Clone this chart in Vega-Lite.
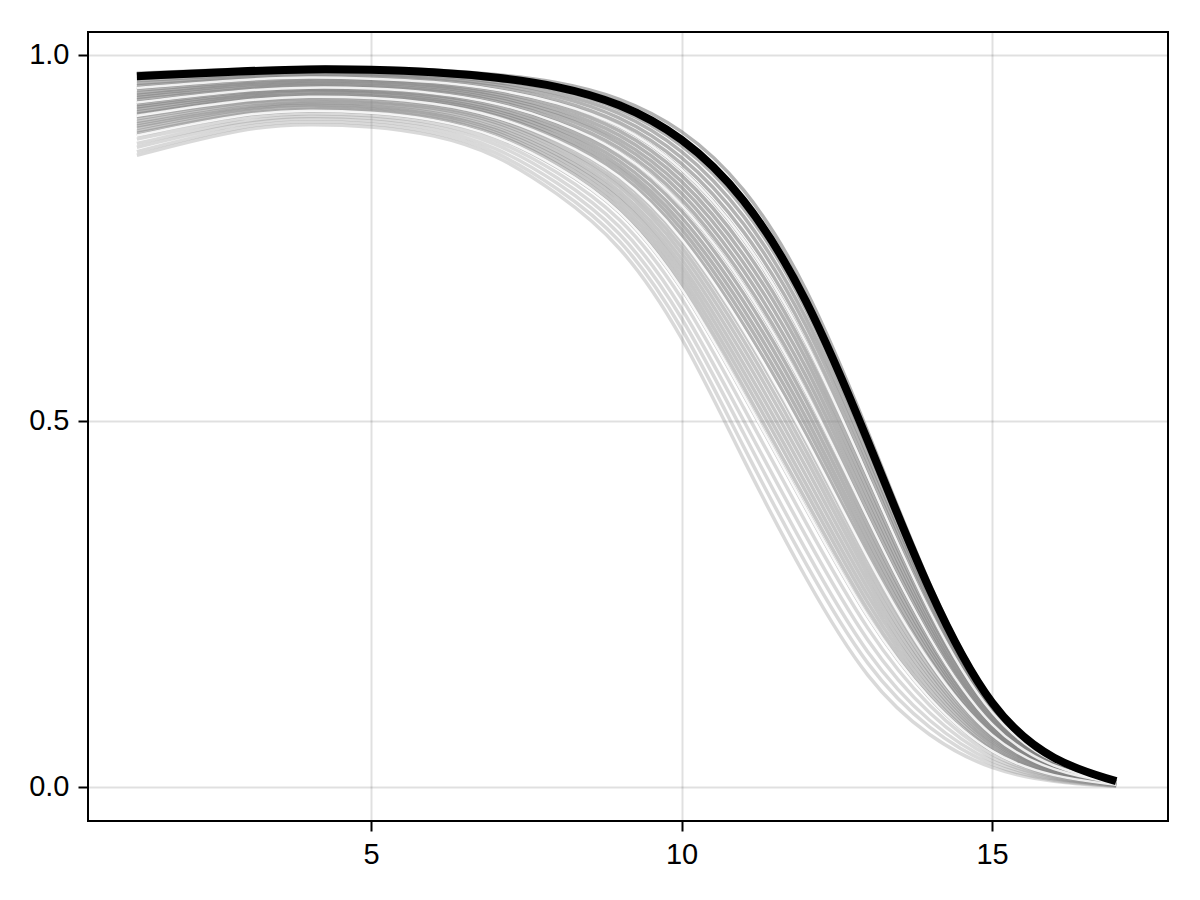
{
  "$schema": "https://vega.github.io/schema/vega-lite/v6.json",
  "width": 1080,
  "height": 789,
  "autosize": {"type": "none"},
  "padding": {"left": 88, "top": 32, "right": 32, "bottom": 79},
  "background": "white",
  "config": {
    "view": {"stroke": "#000000", "strokeWidth": 2},
    "axis": {
      "domain": false,
      "labelFont": "Liberation Sans",
      "labelFontSize": 29,
      "labelColor": "#000000",
      "tickColor": "#000000",
      "tickSize": 10,
      "tickWidth": 2,
      "grid": true,
      "gridColor": "#000000",
      "gridOpacity": 0.12,
      "gridWidth": 2,
      "title": null
    }
  },
  "data": {
    "values": [
      {"x": 1.23, "h": 0.975, "k0": 0.971, "k1": 0.968, "k2": 0.965, "k3": 0.961, "k4": 0.958, "k5": 0.955, "k6": 0.952, "k7": 0.948, "k8": 0.945, "k9": 0.942, "k10": 0.939, "k11": 0.935, "k12": 0.932, "k13": 0.929, "k14": 0.926, "k15": 0.922, "k16": 0.919, "k17": 0.916, "k18": 0.913, "k19": 0.909, "k20": 0.906, "k21": 0.903, "k22": 0.900, "k23": 0.896, "k24": 0.893, "k25": 0.890, "p80": 0.885, "p85": 0.879, "p90": 0.874, "p95": 0.868, "p100": 0.863, "w33": 0.935, "w50": 0.917, "w75": 0.890},
      {"x": 3, "h": 0.981, "k0": 0.978, "k1": 0.976, "k2": 0.973, "k3": 0.971, "k4": 0.969, "k5": 0.967, "k6": 0.964, "k7": 0.962, "k8": 0.960, "k9": 0.957, "k10": 0.955, "k11": 0.953, "k12": 0.951, "k13": 0.948, "k14": 0.946, "k15": 0.944, "k16": 0.942, "k17": 0.939, "k18": 0.937, "k19": 0.935, "k20": 0.932, "k21": 0.930, "k22": 0.928, "k23": 0.926, "k24": 0.923, "k25": 0.921, "p80": 0.917, "p85": 0.913, "p90": 0.910, "p95": 0.906, "p100": 0.902, "w33": 0.953, "w50": 0.940, "w75": 0.921},
      {"x": 4, "h": 0.984, "k0": 0.981, "k1": 0.979, "k2": 0.977, "k3": 0.974, "k4": 0.972, "k5": 0.970, "k6": 0.968, "k7": 0.965, "k8": 0.963, "k9": 0.961, "k10": 0.959, "k11": 0.956, "k12": 0.954, "k13": 0.952, "k14": 0.950, "k15": 0.947, "k16": 0.945, "k17": 0.943, "k18": 0.941, "k19": 0.938, "k20": 0.936, "k21": 0.934, "k22": 0.932, "k23": 0.929, "k24": 0.927, "k25": 0.925, "p80": 0.921, "p85": 0.917, "p90": 0.914, "p95": 0.910, "p100": 0.906, "w33": 0.956, "w50": 0.944, "w75": 0.925},
      {"x": 5, "h": 0.983, "k0": 0.980, "k1": 0.978, "k2": 0.975, "k3": 0.973, "k4": 0.971, "k5": 0.968, "k6": 0.966, "k7": 0.964, "k8": 0.962, "k9": 0.959, "k10": 0.957, "k11": 0.955, "k12": 0.952, "k13": 0.950, "k14": 0.948, "k15": 0.945, "k16": 0.943, "k17": 0.941, "k18": 0.938, "k19": 0.936, "k20": 0.934, "k21": 0.931, "k22": 0.929, "k23": 0.927, "k24": 0.925, "k25": 0.922, "p80": 0.918, "p85": 0.915, "p90": 0.911, "p95": 0.907, "p100": 0.903, "w33": 0.955, "w50": 0.942, "w75": 0.922},
      {"x": 6, "h": 0.980, "k0": 0.977, "k1": 0.974, "k2": 0.972, "k3": 0.969, "k4": 0.967, "k5": 0.964, "k6": 0.962, "k7": 0.959, "k8": 0.957, "k9": 0.954, "k10": 0.952, "k11": 0.949, "k12": 0.946, "k13": 0.944, "k14": 0.941, "k15": 0.939, "k16": 0.936, "k17": 0.934, "k18": 0.931, "k19": 0.929, "k20": 0.926, "k21": 0.923, "k22": 0.921, "k23": 0.918, "k24": 0.916, "k25": 0.913, "p80": 0.909, "p85": 0.905, "p90": 0.901, "p95": 0.896, "p100": 0.892, "w33": 0.949, "w50": 0.935, "w75": 0.913},
      {"x": 7, "h": 0.974, "k0": 0.970, "k1": 0.967, "k2": 0.964, "k3": 0.961, "k4": 0.958, "k5": 0.954, "k6": 0.951, "k7": 0.948, "k8": 0.945, "k9": 0.942, "k10": 0.939, "k11": 0.936, "k12": 0.933, "k13": 0.929, "k14": 0.926, "k15": 0.923, "k16": 0.920, "k17": 0.917, "k18": 0.914, "k19": 0.911, "k20": 0.908, "k21": 0.904, "k22": 0.901, "k23": 0.898, "k24": 0.895, "k25": 0.892, "p80": 0.887, "p85": 0.882, "p90": 0.876, "p95": 0.871, "p100": 0.866, "w33": 0.936, "w50": 0.918, "w75": 0.892},
      {"x": 8, "h": 0.964, "k0": 0.958, "k1": 0.954, "k2": 0.949, "k3": 0.945, "k4": 0.940, "k5": 0.936, "k6": 0.932, "k7": 0.927, "k8": 0.923, "k9": 0.919, "k10": 0.914, "k11": 0.910, "k12": 0.905, "k13": 0.901, "k14": 0.897, "k15": 0.892, "k16": 0.888, "k17": 0.884, "k18": 0.879, "k19": 0.875, "k20": 0.870, "k21": 0.866, "k22": 0.862, "k23": 0.857, "k24": 0.853, "k25": 0.848, "p80": 0.841, "p85": 0.834, "p90": 0.827, "p95": 0.819, "p100": 0.812, "w33": 0.910, "w50": 0.885, "w75": 0.849},
      {"x": 9, "h": 0.943, "k0": 0.935, "k1": 0.929, "k2": 0.924, "k3": 0.918, "k4": 0.912, "k5": 0.907, "k6": 0.901, "k7": 0.895, "k8": 0.889, "k9": 0.884, "k10": 0.878, "k11": 0.872, "k12": 0.867, "k13": 0.861, "k14": 0.855, "k15": 0.850, "k16": 0.844, "k17": 0.838, "k18": 0.832, "k19": 0.827, "k20": 0.821, "k21": 0.815, "k22": 0.810, "k23": 0.804, "k24": 0.798, "k25": 0.793, "p80": 0.783, "p85": 0.774, "p90": 0.764, "p95": 0.755, "p100": 0.745, "w33": 0.872, "w50": 0.840, "w75": 0.793},
      {"x": 10, "h": 0.901, "k0": 0.890, "k1": 0.882, "k2": 0.874, "k3": 0.866, "k4": 0.858, "k5": 0.850, "k6": 0.842, "k7": 0.834, "k8": 0.826, "k9": 0.818, "k10": 0.810, "k11": 0.802, "k12": 0.794, "k13": 0.785, "k14": 0.777, "k15": 0.769, "k16": 0.761, "k17": 0.753, "k18": 0.745, "k19": 0.737, "k20": 0.729, "k21": 0.721, "k22": 0.713, "k23": 0.705, "k24": 0.697, "k25": 0.689, "p80": 0.676, "p85": 0.662, "p90": 0.649, "p95": 0.635, "p100": 0.622, "w33": 0.802, "w50": 0.756, "w75": 0.689},
      {"x": 11, "h": 0.825, "k0": 0.810, "k1": 0.799, "k2": 0.788, "k3": 0.777, "k4": 0.766, "k5": 0.755, "k6": 0.744, "k7": 0.733, "k8": 0.722, "k9": 0.711, "k10": 0.700, "k11": 0.690, "k12": 0.679, "k13": 0.668, "k14": 0.657, "k15": 0.646, "k16": 0.635, "k17": 0.624, "k18": 0.613, "k19": 0.602, "k20": 0.591, "k21": 0.580, "k22": 0.569, "k23": 0.558, "k24": 0.547, "k25": 0.536, "p80": 0.518, "p85": 0.500, "p90": 0.482, "p95": 0.463, "p100": 0.445, "w33": 0.690, "w50": 0.628, "w75": 0.536},
      {"x": 12, "h": 0.691, "k0": 0.675, "k1": 0.663, "k2": 0.651, "k3": 0.640, "k4": 0.628, "k5": 0.616, "k6": 0.604, "k7": 0.593, "k8": 0.581, "k9": 0.569, "k10": 0.557, "k11": 0.546, "k12": 0.534, "k13": 0.522, "k14": 0.510, "k15": 0.499, "k16": 0.487, "k17": 0.475, "k18": 0.463, "k19": 0.452, "k20": 0.440, "k21": 0.428, "k22": 0.416, "k23": 0.405, "k24": 0.393, "k25": 0.381, "p80": 0.361, "p85": 0.342, "p90": 0.322, "p95": 0.303, "p100": 0.283, "w33": 0.546, "w50": 0.479, "w75": 0.381},
      {"x": 13, "h": 0.488, "k0": 0.475, "k1": 0.465, "k2": 0.455, "k3": 0.445, "k4": 0.435, "k5": 0.425, "k6": 0.415, "k7": 0.405, "k8": 0.395, "k9": 0.385, "k10": 0.375, "k11": 0.365, "k12": 0.355, "k13": 0.345, "k14": 0.335, "k15": 0.325, "k16": 0.315, "k17": 0.305, "k18": 0.295, "k19": 0.285, "k20": 0.275, "k21": 0.265, "k22": 0.255, "k23": 0.245, "k24": 0.235, "k25": 0.225, "p80": 0.209, "p85": 0.192, "p90": 0.175, "p95": 0.159, "p100": 0.142, "w33": 0.365, "w50": 0.309, "w75": 0.225},
      {"x": 14, "h": 0.268, "k0": 0.260, "k1": 0.254, "k2": 0.248, "k3": 0.243, "k4": 0.237, "k5": 0.231, "k6": 0.225, "k7": 0.219, "k8": 0.213, "k9": 0.208, "k10": 0.202, "k11": 0.196, "k12": 0.190, "k13": 0.184, "k14": 0.179, "k15": 0.173, "k16": 0.167, "k17": 0.161, "k18": 0.155, "k19": 0.149, "k20": 0.144, "k21": 0.138, "k22": 0.132, "k23": 0.126, "k24": 0.120, "k25": 0.115, "p80": 0.105, "p85": 0.095, "p90": 0.085, "p95": 0.076, "p100": 0.066, "w33": 0.196, "w50": 0.163, "w75": 0.115},
      {"x": 15, "h": 0.103, "k0": 0.100, "k1": 0.098, "k2": 0.095, "k3": 0.093, "k4": 0.091, "k5": 0.088, "k6": 0.086, "k7": 0.084, "k8": 0.081, "k9": 0.079, "k10": 0.077, "k11": 0.074, "k12": 0.072, "k13": 0.070, "k14": 0.067, "k15": 0.065, "k16": 0.063, "k17": 0.060, "k18": 0.058, "k19": 0.056, "k20": 0.053, "k21": 0.051, "k22": 0.049, "k23": 0.046, "k24": 0.044, "k25": 0.042, "p80": 0.038, "p85": 0.034, "p90": 0.030, "p95": 0.026, "p100": 0.022, "w33": 0.074, "w50": 0.061, "w75": 0.042},
      {"x": 16, "h": 0.034, "k0": 0.033, "k1": 0.032, "k2": 0.031, "k3": 0.031, "k4": 0.030, "k5": 0.029, "k6": 0.028, "k7": 0.027, "k8": 0.027, "k9": 0.026, "k10": 0.025, "k11": 0.024, "k12": 0.023, "k13": 0.022, "k14": 0.022, "k15": 0.021, "k16": 0.020, "k17": 0.019, "k18": 0.018, "k19": 0.018, "k20": 0.017, "k21": 0.016, "k22": 0.015, "k23": 0.014, "k24": 0.014, "k25": 0.013, "p80": 0.011, "p85": 0.010, "p90": 0.009, "p95": 0.007, "p100": 0.006, "w33": 0.024, "w50": 0.020, "w75": 0.013},
      {"x": 17, "h": 0.008, "k0": 0.008, "k1": 0.008, "k2": 0.008, "k3": 0.007, "k4": 0.007, "k5": 0.007, "k6": 0.007, "k7": 0.007, "k8": 0.006, "k9": 0.006, "k10": 0.006, "k11": 0.006, "k12": 0.005, "k13": 0.005, "k14": 0.005, "k15": 0.005, "k16": 0.005, "k17": 0.004, "k18": 0.004, "k19": 0.004, "k20": 0.004, "k21": 0.004, "k22": 0.003, "k23": 0.003, "k24": 0.003, "k25": 0.003, "p80": 0.002, "p85": 0.002, "p90": 0.002, "p95": 0.001, "p100": 0.001, "w33": 0.006, "w50": 0.005, "w75": 0.003}
    ]
  },
  "encoding": {
    "x": {
      "field": "x",
      "type": "quantitative",
      "scale": {"domain": [0.443, 17.834], "nice": false, "zero": false},
      "axis": {"values": [5, 10, 15], "format": "d", "labelPadding": 9}
    }
  },
  "layer": [
    {
      "transform": [{"fold": ["h", "k1", "k2", "k3", "k4", "k5", "k6", "k7", "k8", "k9", "k10", "k11", "k12", "k13", "k14", "k15", "k16"], "as": ["series", "value"]}],
      "mark": {"type": "line", "interpolate": "basis", "stroke": "#808080", "strokeWidth": 3.5, "opacity": 0.6},
      "encoding": {
        "y": {"field": "value", "type": "quantitative", "scale": {"domain": [-0.0465, 1.0314], "nice": false, "zero": false}, "axis": {"values": [0, 0.5, 1], "format": ".1f", "labelPadding": 9}},
        "detail": {"field": "series"}
      }
    },
    {
      "transform": [{"fold": ["k17", "k18", "k19", "k20", "k21", "k22", "k23", "k24", "k25"], "as": ["series", "value"]}],
      "mark": {"type": "line", "interpolate": "basis", "stroke": "#808080", "strokeWidth": 3.5, "opacity": 0.45},
      "encoding": {
        "y": {"field": "value", "type": "quantitative", "scale": {"domain": [-0.0465, 1.0314], "nice": false, "zero": false}, "axis": {"values": [0, 0.5, 1], "format": ".1f", "labelPadding": 9}},
        "detail": {"field": "series"}
      }
    },
    {
      "transform": [{"fold": ["p80", "p85", "p90", "p95", "p100"], "as": ["series", "value"]}],
      "mark": {"type": "line", "interpolate": "basis", "stroke": "#808080", "strokeWidth": 3.5, "opacity": 0.3},
      "encoding": {
        "y": {"field": "value", "type": "quantitative", "scale": {"domain": [-0.0465, 1.0314], "nice": false, "zero": false}, "axis": {"values": [0, 0.5, 1], "format": ".1f", "labelPadding": 9}},
        "detail": {"field": "series"}
      }
    },
    {
      "transform": [{"fold": ["k5", "w33", "w50", "w75"], "as": ["series", "value"]}],
      "mark": {"type": "line", "interpolate": "basis", "stroke": "#ffffff", "strokeWidth": 2.5, "opacity": 0.85},
      "encoding": {
        "y": {"field": "value", "type": "quantitative", "scale": {"domain": [-0.0465, 1.0314], "nice": false, "zero": false}, "axis": {"values": [0, 0.5, 1], "format": ".1f", "labelPadding": 9}},
        "detail": {"field": "series"}
      }
    },
    {
      "mark": {"type": "line", "interpolate": "basis", "stroke": "#000000", "strokeWidth": 8},
      "encoding": {
        "y": {"field": "k0", "type": "quantitative", "scale": {"domain": [-0.0465, 1.0314], "nice": false, "zero": false}, "axis": {"values": [0, 0.5, 1], "format": ".1f", "labelPadding": 9}}
      }
    }
  ]
}
